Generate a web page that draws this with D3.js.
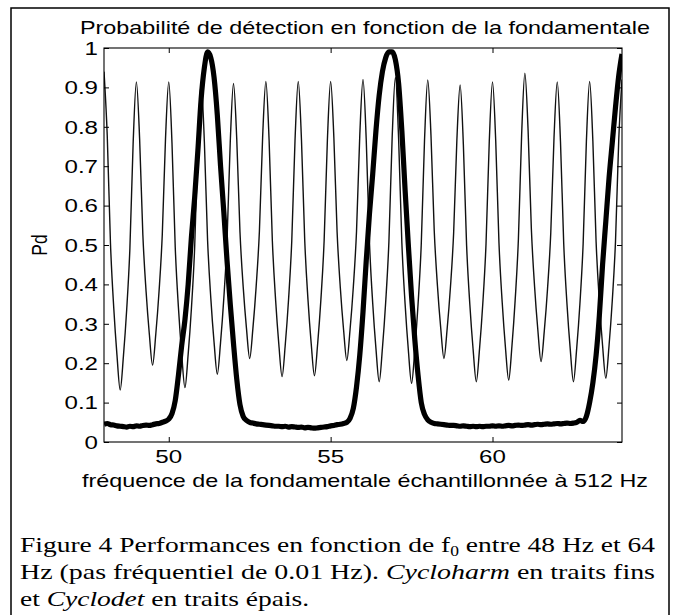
<!DOCTYPE html>
<html><head><meta charset="utf-8">
<script src="https://cdn.jsdelivr.net/npm/d3@7"></script>
<style>body{margin:0;background:#fff}svg{display:block}</style>
</head><body><svg id="c" width="675" height="615"></svg>
<script>
// ---------- data ----------
const freqDomain = [48, 64];           // Hz
const freqStepHz = 0.1;                 // sampling of the values below
// Cycloharm (thin line), 48.0 .. 64.0 Hz every 0.1 Hz
const cycloharm = [
  0.940,0.778,0.504,0.342,0.221,0.132,0.218,0.335,0.492,0.758,
  0.914,0.770,0.526,0.382,0.274,0.195,0.274,0.382,0.526,0.770,
  0.914,0.759,0.495,0.340,0.223,0.138,0.223,0.339,0.493,0.756,
  0.910,0.762,0.511,0.364,0.253,0.172,0.253,0.364,0.511,0.762,
  0.910,0.770,0.533,0.393,0.289,0.212,0.289,0.395,0.535,0.774,
  0.915,0.765,0.511,0.361,0.248,0.166,0.248,0.361,0.511,0.765,
  0.915,0.766,0.512,0.362,0.250,0.168,0.250,0.362,0.512,0.766,
  0.915,0.773,0.533,0.391,0.285,0.207,0.285,0.392,0.535,0.777,
  0.920,0.767,0.506,0.352,0.237,0.153,0.238,0.354,0.508,0.771,
  0.925,0.770,0.506,0.351,0.234,0.149,0.234,0.349,0.503,0.765,
  0.919,0.778,0.537,0.396,0.290,0.212,0.288,0.392,0.531,0.767,
  0.906,0.755,0.499,0.349,0.236,0.153,0.237,0.351,0.503,0.762,
  0.914,0.763,0.505,0.354,0.240,0.157,0.243,0.360,0.515,0.780,
  0.936,0.790,0.541,0.394,0.285,0.204,0.282,0.389,0.531,0.772,
  0.914,0.762,0.503,0.351,0.237,0.153,0.237,0.351,0.504,0.763,
  0.915,0.764,0.508,0.358,0.245,0.162,0.245,0.359,0.511,0.768,
  0.920
];
// Cyclodet (thick line), 48.0 .. 64.0 Hz every 0.1 Hz
const cyclodet = [
  0.045,0.047,0.044,0.043,0.041,0.040,0.039,0.038,0.040,0.039,
  0.041,0.040,0.042,0.043,0.042,0.044,0.046,0.047,0.050,0.053,
  0.058,0.072,0.105,0.170,0.245,0.310,0.400,0.520,0.620,0.740,
  0.870,0.950,0.990,0.975,0.925,0.830,0.700,0.585,0.460,0.350,
  0.250,0.160,0.095,0.065,0.055,0.050,0.048,0.046,0.045,0.044,
  0.043,0.042,0.041,0.040,0.040,0.039,0.040,0.038,0.039,0.038,
  0.037,0.038,0.036,0.037,0.036,0.035,0.036,0.037,0.038,0.039,
  0.041,0.042,0.044,0.045,0.047,0.050,0.060,0.085,0.140,0.220,
  0.330,0.460,0.580,0.680,0.790,0.880,0.940,0.975,0.990,0.990,
  0.970,0.910,0.790,0.640,0.500,0.370,0.260,0.170,0.100,0.070,
  0.056,0.050,0.047,0.046,0.045,0.044,0.043,0.042,0.042,0.041,
  0.040,0.041,0.040,0.039,0.040,0.039,0.040,0.039,0.040,0.040,
  0.041,0.040,0.041,0.040,0.041,0.042,0.041,0.042,0.043,0.042,
  0.043,0.044,0.043,0.044,0.045,0.044,0.045,0.046,0.045,0.046,
  0.047,0.046,0.047,0.048,0.047,0.048,0.050,0.055,0.052,0.065,
  0.100,0.150,0.220,0.320,0.450,0.560,0.670,0.760,0.850,0.930,
  0.985
];
const xTickValues = [50, 55, 60];
const xTickLabels = ["50", "55", "60"];
const yTickValues = [0, 0.1, 0.2, 0.3, 0.4, 0.5, 0.6, 0.7, 0.8, 0.9, 1];
const yTickLabels = ["0", "0.1", "0.2", "0.3", "0.4", "0.5", "0.6", "0.7", "0.8", "0.9", "1"];
const titleText = "Probabilité de détection en fonction de la fondamentale";
const xLabelText = "fréquence de la fondamentale échantillonnée à 512 Hz";
const yLabelText = "Pd";

// ---------- drawing ----------
const freqs = cycloharm.map((_, i) => +(freqDomain[0] + i * freqStepHz).toFixed(2));
const svg = d3.select("#c");
const L = 104, R = 622, T = 48, B = 442;
const x = d3.scaleLinear().domain(freqDomain).range([L, R]);
const y = d3.scaleLinear().domain([0, 1]).range([B, T]);
const sans = "'Liberation Sans', Arial, Helvetica, sans-serif";
const serif = "'Liberation Serif', 'Times New Roman', Times, serif";
const stretch = 1.27;

// outer frame (open at the bottom)
svg.append("path").attr("d", "M11,616 V8 H669 V616")
  .attr("fill", "none").attr("stroke", "#000").attr("stroke-width", 1.5);

// curves
svg.append("clipPath").attr("id", "clip").append("rect")
  .attr("x", L).attr("y", T - 3).attr("width", R - L).attr("height", B - T + 3);
const line = d3.line().x((d, i) => x(freqs[i])).y(d => y(d)).curve(d3.curveMonotoneX);
const gc = svg.append("g").attr("clip-path", "url(#clip)");
gc.append("path").datum(cycloharm).attr("d", line)
  .attr("fill", "none").attr("stroke", "#111").attr("stroke-width", 1.4).attr("stroke-linejoin", "round");
gc.append("path").datum(cyclodet).attr("d", line)
  .attr("fill", "none").attr("stroke", "#000").attr("stroke-width", 5.2).attr("stroke-linejoin", "round");

// axes (ticks inward on all four sides)
function styleAxis(g) { g.select(".domain").remove(); g.selectAll("line").attr("stroke", "#000"); }
svg.append("g").attr("transform", `translate(${L},0)`)
  .call(d3.axisLeft(y).tickValues(yTickValues).tickSize(-5).tickFormat("")).call(styleAxis);
svg.append("g").attr("transform", `translate(${R},0)`)
  .call(d3.axisRight(y).tickValues(yTickValues).tickSize(-5).tickFormat("")).call(styleAxis);
svg.append("g").attr("transform", `translate(0,${B})`)
  .call(d3.axisBottom(x).tickValues(xTickValues).tickSize(-5).tickFormat("")).call(styleAxis);
svg.append("g").attr("transform", `translate(0,${T})`)
  .call(d3.axisTop(x).tickValues(xTickValues).tickSize(-5).tickFormat("")).call(styleAxis);
svg.append("rect").attr("x", L).attr("y", T).attr("width", R - L).attr("height", B - T)
  .attr("fill", "none").attr("stroke", "#000").attr("stroke-width", 1.1);

// tick labels
svg.append("g").selectAll("text").data(yTickValues).join("text")
  .attr("transform", d => `translate(98,${y(d)}) scale(${stretch},1)`)
  .attr("text-anchor", "end").attr("dy", "0.36em")
  .attr("font-family", sans).attr("font-size", 19).attr("fill", "#000")
  .text((d, i) => yTickLabels[i]);
svg.append("g").selectAll("text").data(xTickValues).join("text")
  .attr("transform", d => `translate(${x(d)},463) scale(${stretch},1)`)
  .attr("text-anchor", "middle")
  .attr("font-family", sans).attr("font-size", 19).attr("fill", "#000")
  .text((d, i) => xTickLabels[i]);

// title & axis labels
svg.append("text").attr("x", 80).attr("y", 34)
  .attr("textLength", 570).attr("lengthAdjust", "spacingAndGlyphs")
  .attr("font-family", sans).attr("font-size", 19).text(titleText);
svg.append("text").attr("x", 82).attr("y", 487)
  .attr("textLength", 566).attr("lengthAdjust", "spacingAndGlyphs")
  .attr("font-family", sans).attr("font-size", 19).text(xLabelText);
svg.append("text").attr("transform", `translate(47,${(T + B) / 2}) rotate(-90) scale(0.92,1.2)`)
  .attr("text-anchor", "middle")
  .attr("font-family", sans).attr("font-size", 19).text(yLabelText);

// caption (same horizontal stretch as the rest of the scanned figure)
const cap = svg.append("g").attr("font-family", serif).attr("font-size", 22).attr("fill", "#000");
const l1 = cap.append("text").attr("x", 20).attr("y", 552);
l1.append("tspan").text("Figure 4 Performances en fonction de f");
l1.append("tspan").attr("font-size", 14).attr("dy", 4).text("0");
l1.append("tspan").attr("dy", -4).text(" entre 48 Hz et 64");
const l2 = cap.append("text").attr("x", 20).attr("y", 579);
l2.append("tspan").text("Hz (pas fréquentiel de 0.01 Hz). ");
l2.append("tspan").attr("font-style", "italic").text("Cycloharm");
l2.append("tspan").text(" en traits fins");
const l3 = cap.append("text").attr("x", 20).attr("y", 606);
l3.append("tspan").text("et ");
l3.append("tspan").attr("font-style", "italic").text("Cyclodet");
l3.append("tspan").text(" en traits épais.");
const n1 = l1.node().getComputedTextLength();
const ratio = 635 / n1;
[l1, l2, l3].forEach((t, i) => {
  const w = i < 2 ? 635 : t.node().getComputedTextLength() * ratio;
  t.attr("textLength", w).attr("lengthAdjust", "spacingAndGlyphs");
});
</script>
</body></html>
